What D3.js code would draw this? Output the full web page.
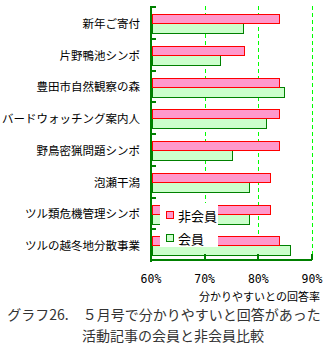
<!DOCTYPE html>
<html><head><meta charset="utf-8">
<script src="https://cdn.jsdelivr.net/npm/d3@7"></script>
<style>body{margin:0;background:#fff}svg{display:block}text{white-space:pre}</style>
</head><body><svg id="c" width="331" height="351"></svg>
<script>
const categories = ["新年ご寄付","片野鴨池シンポ","豊田市自然観察の森","バードウォッチング案内人","野鳥密猟問題シンポ","泡瀬干潟","ツル類危機管理シンポ","ツルの越冬地分散事業"];
const nonMember = [83.9, 77.4, 83.9, 83.9, 83.9, 82.2, 82.2, 83.9];
const member = [77.2, 72.9, 84.8, 81.5, 75.1, 78.3, 78.3, 85.9];
const tickValues = [60, 70, 80, 90];
const tickLabels = ["60%", "70%", "80%", "90%"];
const seriesNames = ["非会員", "会員"];
const axisTitle = "分かりやすいとの回答率";
const captionLines = ["グラフ26.　５月号で分かりやすいと回答があった", "活動記事の会員と非会員比較"];

const svg = d3.select("#c");
const jp = "'Noto Sans CJK JP', sans-serif";
const x = d3.scaleLinear().domain([60, 90]).range([151, 312]);
const y = d3.scaleBand().domain(categories).range([6, 260]).padding(0);
const axisCol = "#008000";

// gridlines
svg.append("g").selectAll("line").data(tickValues.slice(1)).join("line")
  .attr("x1", d => Math.round(x(d)) + 0.5).attr("x2", d => Math.round(x(d)) + 0.5)
  .attr("y1", 6).attr("y2", 259)
  .attr("stroke", "#00ff00").attr("stroke-width", 1).attr("stroke-dasharray", "4,3")
  .attr("shape-rendering", "crispEdges");

// bars
const g = svg.append("g").attr("shape-rendering", "crispEdges");
categories.forEach((c, i) => {
  const y0 = y(c);
  const top = Math.round(y0 + 8) + 0.5;
  const mid = top + 9;
  const bot = top + 19;
  g.append("rect").attr("x", x(60) + 1).attr("y", mid)
    .attr("width", Math.round(x(member[i])) - x(60) - 1).attr("height", bot - mid)
    .attr("fill", "#ccffcc").attr("stroke", axisCol).attr("stroke-width", 1);
  g.append("rect").attr("x", x(60) + 1).attr("y", top)
    .attr("width", Math.round(x(nonMember[i])) - x(60) - 1).attr("height", mid - top)
    .attr("fill", "#ff99cc").attr("stroke", "#ff0000").attr("stroke-width", 1);
});

// axes
const ax = svg.append("g").attr("shape-rendering", "crispEdges").attr("fill", axisCol);
ax.append("rect").attr("x", 150).attr("y", 6).attr("width", 2).attr("height", 256);
ax.append("rect").attr("x", 150).attr("y", 259).attr("width", 162).attr("height", 2);
ax.selectAll(".yt").data(categories).join("rect").attr("class", "yt")
  .attr("x", 152).attr("y", d => Math.round(y(d))).attr("width", 4).attr("height", 2);
ax.selectAll(".xt").data(tickValues.slice(1)).join("rect").attr("class", "xt")
  .attr("x", d => Math.round(x(d)) - 1).attr("y", 254).attr("width", 2).attr("height", 6);

// category labels
svg.append("g").selectAll("text").data(categories).join("text")
  .attr("x", 140).attr("y", d => y(d) + y.bandwidth() / 2 + 1)
  .attr("text-anchor", "end").attr("dominant-baseline", "central")
  .attr("font-family", jp).attr("font-size", "11.5px").attr("fill", "#000")
  .text(d => d);

// tick labels
svg.append("g").selectAll("text").data(tickValues).join("text")
  .attr("x", d => x(d)).attr("y", 283)
  .attr("text-anchor", "middle")
  .attr("font-family", "'DejaVu Sans Mono', monospace").attr("font-size", "11.5px").attr("fill", "#000")
  .text((d, i) => tickLabels[i]);

svg.append("text").attr("x", 320).attr("y", 295.5)
  .attr("text-anchor", "end").attr("dominant-baseline", "central")
  .attr("font-family", jp).attr("font-size", "11px").attr("fill", "#000").text(axisTitle);

// legend
const lg = svg.append("g");
lg.append("rect").attr("x", 160).attr("y", 203).attr("width", 58).attr("height", 44).attr("fill", "#fff");
const legendFill = ["#ff99cc", "#ccffcc"], legendStroke = ["#ff0000", axisCol];
seriesNames.forEach((n, i) => {
  const cy = 215 + i * 23;
  lg.append("rect").attr("x", 166.5).attr("y", cy - 3.5).attr("width", 7).attr("height", 7)
    .attr("fill", legendFill[i]).attr("stroke", legendStroke[i]).attr("shape-rendering", "crispEdges");
  lg.append("text").attr("x", 178).attr("y", cy).attr("dominant-baseline", "central")
    .attr("font-family", jp).attr("font-size", "13px").attr("fill", "#000").text(n);
});

// caption
svg.append("text").attr("x", 164).attr("y", 314).attr("text-anchor", "middle").attr("dominant-baseline", "central")
  .attr("font-family", jp).attr("font-size", "14px").attr("fill", "#333").text(captionLines[0]);
svg.append("text").attr("x", 173).attr("y", 334.5).attr("text-anchor", "middle").attr("dominant-baseline", "central")
  .attr("font-family", jp).attr("font-size", "14px").attr("fill", "#333").text(captionLines[1]);
</script></body></html>
